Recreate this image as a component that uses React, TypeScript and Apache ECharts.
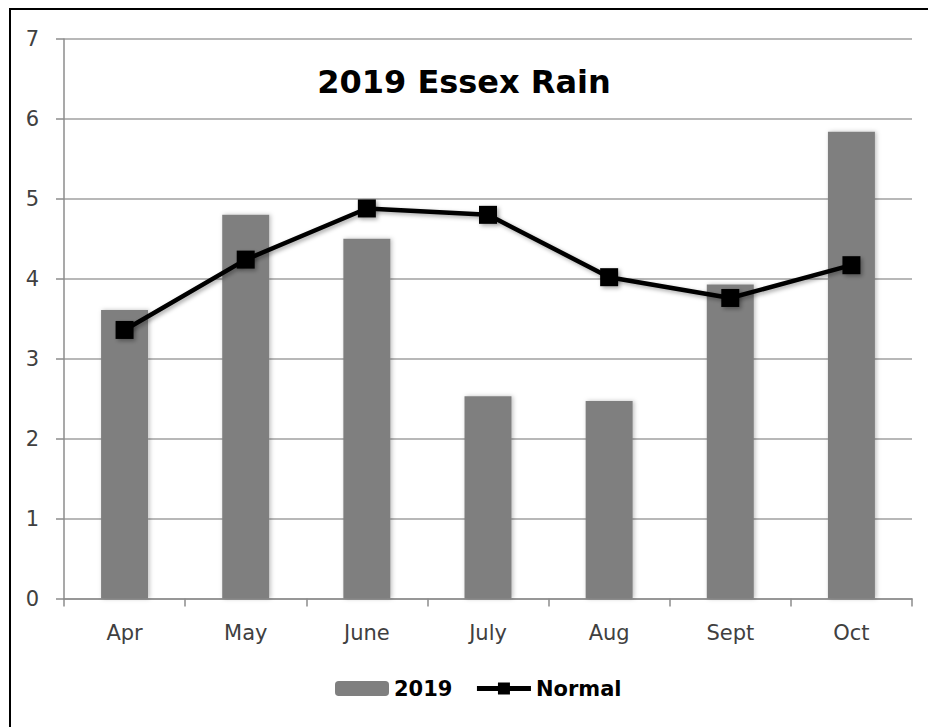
import React, { useEffect, useRef } from "react";
import * as echarts from "echarts";

const categories = ["Apr", "May", "June", "July", "Aug", "Sept", "Oct"];
const rain2019 = [3.61, 4.8, 4.5, 2.53, 2.47, 3.93, 5.84];
const normal = [3.36, 4.24, 4.88, 4.8, 4.02, 3.76, 4.17];
const yTicks = { min: 0, max: 7, interval: 1 };
const titleText = "2019 Essex Rain";

const FONT = "DejaVu Sans";

export default function App() {
  const ref = useRef<HTMLDivElement>(null);
  useEffect(() => {
    if (!ref.current) return;
    const chart = echarts.init(ref.current, null, { renderer: "svg" });
    chart.setOption({
      animation: false,
      backgroundColor: "#ffffff",
      textStyle: { fontFamily: FONT },
      title: {
        text: titleText,
        left: "center",
        top: 61,
        textStyle: { fontFamily: FONT, fontWeight: "bold", fontSize: 32, color: "#000" },
      },
      grid: { left: 64, right: 16, top: 39, bottom: 128.5 },
      legend: {
        bottom: 23,
        left: 330,
        itemWidth: 54,
        itemHeight: 15,
        itemGap: 22,
        textStyle: { fontFamily: FONT, fontWeight: "bold", fontSize: 21, color: "#000" },
        data: [
          { name: "2019" },
          { name: "Normal", lineStyle: { width: 5, color: "#000" } },
        ],
      },
      xAxis: {
        type: "category",
        data: categories,
        boundaryGap: true,
        axisLine: { show: true, lineStyle: { color: "#8c8c8c", width: 1.5 } },
        axisTick: { show: true, length: 8, alignWithLabel: false, lineStyle: { color: "#8c8c8c", width: 1.5 } },
        axisLabel: { fontFamily: FONT, fontSize: 21, color: "#404040", margin: 24 },
        splitLine: { show: false },
      },
      yAxis: {
        type: "value",
        min: yTicks.min,
        max: yTicks.max,
        interval: yTicks.interval,
        axisLine: { show: true, lineStyle: { color: "#8c8c8c", width: 1.5 } },
        axisTick: { show: true, length: 8, inside: false, lineStyle: { color: "#8c8c8c", width: 1.5 } },
        axisLabel: { fontFamily: FONT, fontSize: 21, color: "#404040", margin: 25 },
        splitLine: { show: true, lineStyle: { color: "#a0a0a0", width: 1.5 } },
      },
      series: [
        {
          name: "2019",
          type: "bar",
          data: rain2019,
          barWidth: 47,
          itemStyle: {
            color: "#7f7f7f",
            shadowBlur: 4,
            shadowColor: "rgba(0,0,0,0.25)",
            shadowOffsetX: 1.5,
            shadowOffsetY: 0,
          },
        },
        {
          name: "Normal",
          type: "line",
          data: normal,
          symbol: "rect",
          symbolSize: 18,
          lineStyle: {
            color: "#000",
            width: 4.5,
            shadowBlur: 4,
            shadowColor: "rgba(0,0,0,0.35)",
            shadowOffsetX: 2,
            shadowOffsetY: 2,
          },
          itemStyle: {
            color: "#000",
            shadowBlur: 4,
            shadowColor: "rgba(0,0,0,0.35)",
            shadowOffsetX: 2,
            shadowOffsetY: 2,
          },
          z: 5,
        },
      ],
      graphic: [
        {
          type: "rect",
          shape: { x: 10, y: 9, width: 1000, height: 1000 },
          style: { fill: "none", stroke: "#000", lineWidth: 2 },
          silent: true,
        },
      ],
    });
    return () => chart.dispose();
  }, []);
  return (
    <div
      ref={ref}
      style={{ position: "fixed", left: 0, top: 0, width: 928, height: 727 }}
    />
  );
}
